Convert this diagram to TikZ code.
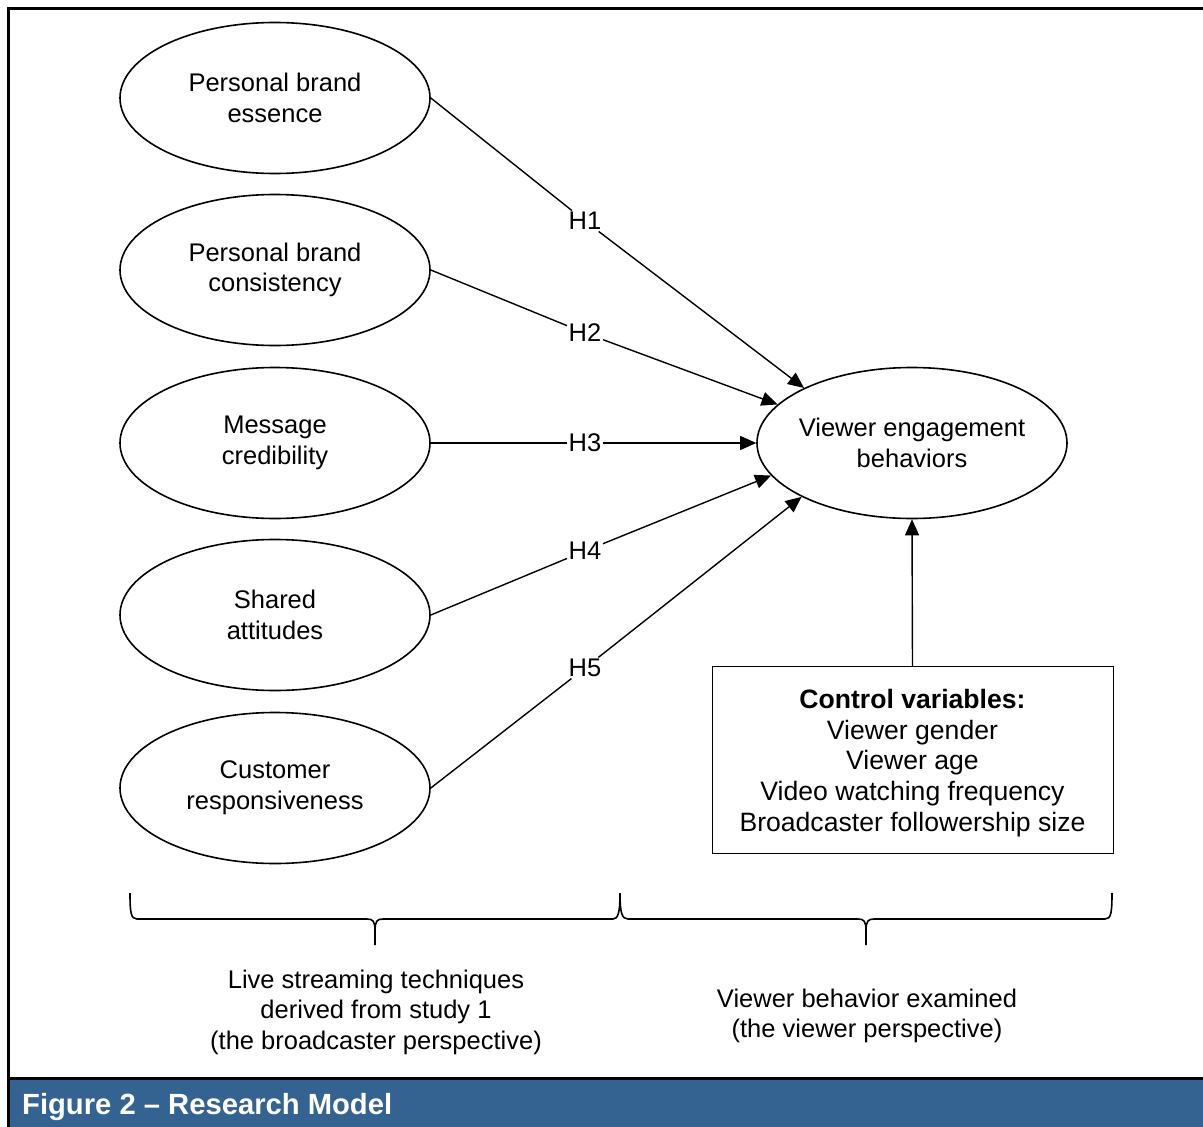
\documentclass[tikz,border=0pt]{standalone}
\usepackage{fontspec}
\setmainfont{Liberation Sans}
\usetikzlibrary{shapes.geometric,arrows.meta}
\definecolor{capblue}{RGB}{52,99,145}
\begin{document}
\begin{tikzpicture}[x=1pt,y=-1pt,
  txt/.style={font=\fontsize{25.5}{30.6}\selectfont},
  oval/.style={draw,ellipse,line width=1.6pt,minimum width=310pt,minimum height=151pt,inner sep=0pt,align=center,txt},
  hlab/.style={fill=white,inner sep=1.5pt,txt},
  conn/.style={line width=1.4pt},
  arr/.style={conn,-{Triangle[length=16pt,width=14pt]}},
  ctrlbox/.style={draw,line width=0.8pt,minimum width=401pt,minimum height=187pt,align=center,font=\fontsize{26.6}{30.8}\selectfont},
  bracepath/.style={line width=1.6pt},
  note/.style={align=center,txt}]
\useasboundingbox (0,0) rectangle (1203,1127);
% frame and caption bar
\fill[capblue] (8,1079) rectangle (1203,1127);
\draw[line width=3pt] (1210,8) -- (8,8) -- (8,1130);
\draw[line width=3pt] (8,1078) -- (1210,1078);
\node[anchor=west,text=white,inner sep=0pt,font=\bfseries\fontsize{29.2}{35}\selectfont] (cap) at (22,1107) {Figure 2 – Research Model};
% ellipses
\node[oval] (e1) at (275,98) {Personal brand\\essence};
\node[oval] (e2) at (275,270) {Personal brand\\consistency};
\node[oval] (e3) at (275,443) {Message\\credibility};
\node[oval] (e4) at (275,615) {Shared\\attitudes};
\node[oval] (e5) at (275,788) {Customer\\responsiveness};
\node[oval,inner xsep=-20pt] (v) at (912,443) {Viewer engagement\\behaviors};
% labels
\node[hlab] (h1) at (585,221) {H1};
\node[hlab] (h2) at (585,333) {H2};
\node[hlab] (h3) at (585,443) {H3};
\node[hlab] (h4) at (585,551) {H4};
\node[hlab] (h5) at (585,668) {H5};
% connectors
\draw[conn] (e1.east) -- (h1);
\draw[arr] (h1) -- (v.153);
\draw[conn] (e2.east) -- (h2);
\draw[arr] (h2) -- (v.164);
\draw[conn] (e3.east) -- (h3);
\draw[arr] (h3) -- (v.west);
\draw[conn] (e4.east) -- (h4);
\draw[arr] (h4) -- (v.193);
\draw[conn] (e5.east) -- (h5);
\draw[arr] (h5) -- (v.206);
% control box
\node[ctrlbox] (ctrl) at (912.5,760) {};
\node[align=center,font=\fontsize{26.6}{30.8}\selectfont] (ctrltext) at (912.5,763) {\textbf{Control variables:}\\Viewer gender\\Viewer age\\Video watching frequency\\Broadcaster followership size};
\draw[arr] (ctrl.north) -- (v.south);
% braces
\draw[bracepath] (130,893) .. controls (130,913) and (131,919) .. (137,919) -- (367,919) .. controls (373,919) and (375,921) .. (375,931) -- (375,945);
\draw[bracepath] (375,931) .. controls (375,921) and (377,919) .. (383,919) -- (613,919) .. controls (618,919) and (620,913) .. (620,893);
\draw[bracepath] (620,893) .. controls (620,913) and (622,919) .. (628,919) -- (858,919) .. controls (864,919) and (866,921) .. (866,931) -- (866,945);
\draw[bracepath] (866,931) .. controls (866,921) and (868,919) .. (874,919) -- (1105,919) .. controls (1111,919) and (1112,913) .. (1112,893);
% notes
\node[note] (n1) at (376,1012) {Live streaming techniques\\derived from study 1\\(the broadcaster perspective)};
\node[note] (n2) at (867,1016) {Viewer behavior examined\\(the viewer perspective)};
\end{tikzpicture}
\end{document}
